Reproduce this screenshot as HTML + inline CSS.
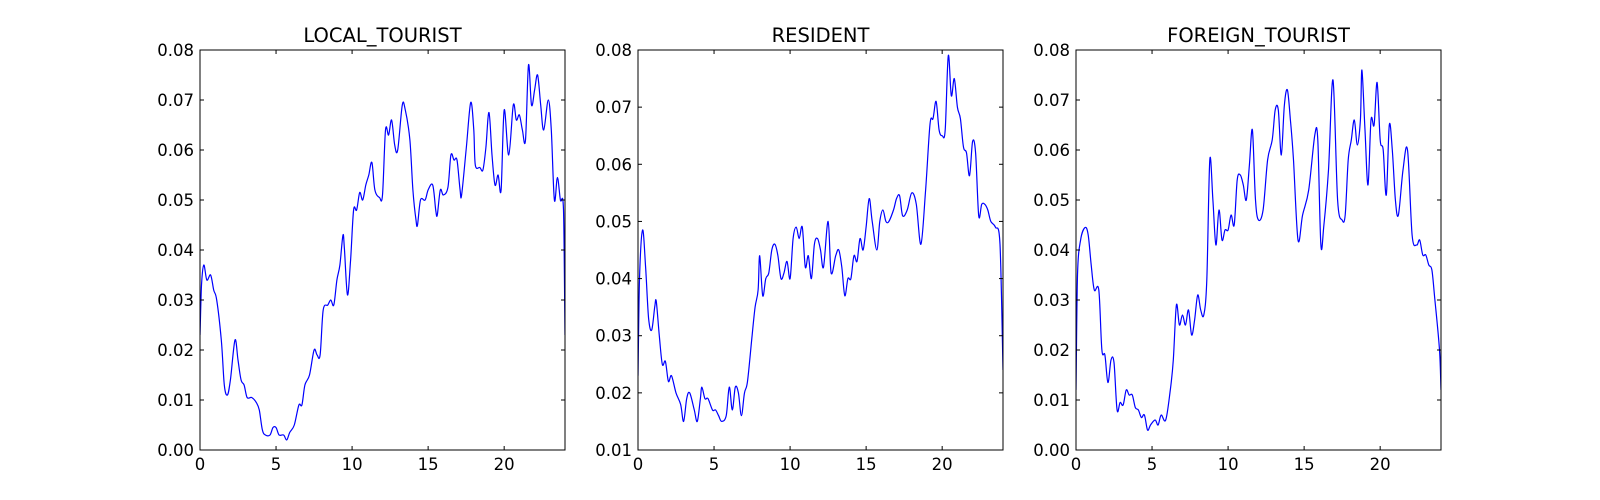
<!DOCTYPE html>
<html><head><meta charset="utf-8"><style>
html,body{margin:0;padding:0;background:#fff;}
svg{display:block;font-family:"DejaVu Sans","Liberation Sans",sans-serif;}
</style></head><body>
<svg id="chart" width="1600" height="500" xmlns="http://www.w3.org/2000/svg"></svg>
<script>
const titles = ["LOCAL_TOURIST","RESIDENT","FOREIGN_TOURIST"];
const yMins = [0,0.01,0];
const yMax = 0.08;
const xTicks = [0,5,10,15,20];
const t1 = [0,0.1,0.25,0.45,0.7,0.9,1.1,1.4,1.6,1.8,2.0,2.3,2.5,2.7,2.9,3.1,3.4,3.7,3.9,4.1,4.3,4.6,4.8,5.0,5.2,5.5,5.7,5.9,6.2,6.5,6.7,6.9,7.2,7.5,7.7,7.9,8.1,8.4,8.6,8.8,9.0,9.2,9.4,9.5,9.7,9.9,10.1,10.3,10.5,10.7,10.9,11.1,11.3,11.5,11.8,12.0,12.2,12.4,12.6,12.8,13.0,13.3,13.5,13.8,14.0,14.2,14.3,14.5,14.8,15.0,15.3,15.5,15.6,15.8,16.0,16.3,16.5,16.7,16.9,17.1,17.2,17.5,17.8,18.0,18.1,18.4,18.6,18.8,19.0,19.2,19.4,19.6,19.8,20.0,20.3,20.6,20.8,21.0,21.2,21.4,21.6,21.8,22.0,22.2,22.4,22.6,22.9,23.1,23.3,23.5,23.7,23.9,24];
const v1 = [0.023,0.033,0.037,0.034,0.035,0.032,0.030,0.022,0.013,0.011,0.014,0.022,0.018,0.014,0.013,0.0105,0.0105,0.0095,0.008,0.004,0.003,0.003,0.0045,0.0045,0.003,0.003,0.002,0.0035,0.005,0.009,0.009,0.013,0.015,0.020,0.019,0.019,0.028,0.029,0.030,0.029,0.034,0.037,0.043,0.040,0.031,0.038,0.048,0.048,0.0515,0.050,0.053,0.055,0.0575,0.052,0.0505,0.051,0.064,0.063,0.066,0.061,0.060,0.069,0.068,0.062,0.052,0.046,0.045,0.050,0.050,0.052,0.053,0.048,0.047,0.052,0.051,0.0525,0.059,0.058,0.058,0.052,0.051,0.060,0.0695,0.064,0.057,0.0565,0.056,0.0605,0.0675,0.059,0.053,0.055,0.052,0.068,0.059,0.069,0.066,0.067,0.064,0.062,0.077,0.069,0.072,0.075,0.069,0.064,0.070,0.064,0.050,0.0545,0.050,0.048,0.023];
const t2 = [0,0.1,0.3,0.5,0.7,0.9,1.1,1.2,1.4,1.6,1.8,2.0,2.2,2.5,2.8,3.0,3.2,3.4,3.7,3.9,4.1,4.2,4.4,4.6,4.9,5.1,5.3,5.5,5.8,6.0,6.2,6.4,6.6,6.8,7.0,7.2,7.5,7.7,7.9,8.0,8.2,8.4,8.6,8.8,9.0,9.2,9.4,9.6,9.8,10.0,10.2,10.4,10.6,10.8,11.0,11.2,11.4,11.6,11.8,12.0,12.2,12.5,12.7,13.0,13.2,13.4,13.6,13.8,14.0,14.2,14.4,14.6,14.8,15.0,15.2,15.4,15.7,15.9,16.1,16.3,16.5,16.8,17.0,17.2,17.4,17.7,18.0,18.3,18.6,18.9,19.2,19.4,19.6,19.8,20.0,20.2,20.4,20.6,20.8,21.0,21.2,21.4,21.6,21.8,22.0,22.2,22.4,22.6,22.8,23.0,23.2,23.5,23.8,24];
const v2 = [0.023,0.040,0.0485,0.042,0.033,0.031,0.035,0.036,0.030,0.025,0.0255,0.022,0.023,0.020,0.018,0.015,0.019,0.020,0.017,0.015,0.019,0.021,0.019,0.019,0.017,0.017,0.016,0.015,0.016,0.021,0.017,0.021,0.020,0.016,0.020,0.022,0.030,0.035,0.038,0.044,0.037,0.040,0.041,0.045,0.046,0.044,0.040,0.041,0.043,0.040,0.047,0.049,0.047,0.049,0.042,0.044,0.040,0.046,0.047,0.045,0.042,0.050,0.041,0.044,0.045,0.042,0.037,0.040,0.040,0.044,0.043,0.047,0.045,0.049,0.054,0.050,0.045,0.050,0.052,0.050,0.050,0.052,0.054,0.0545,0.051,0.052,0.055,0.053,0.046,0.055,0.067,0.068,0.071,0.066,0.065,0.066,0.079,0.072,0.075,0.070,0.068,0.063,0.062,0.058,0.064,0.062,0.051,0.053,0.053,0.052,0.050,0.049,0.046,0.024];
const t3 = [0,0.1,0.3,0.6,0.8,1.0,1.2,1.5,1.7,1.9,2.1,2.3,2.5,2.7,2.9,3.1,3.3,3.5,3.7,3.9,4.1,4.3,4.5,4.7,4.9,5.2,5.4,5.6,5.9,6.2,6.4,6.6,6.8,7.0,7.2,7.4,7.6,7.8,8.0,8.2,8.4,8.6,8.8,9.0,9.2,9.4,9.6,9.8,10.0,10.2,10.4,10.6,10.8,11.0,11.2,11.4,11.6,11.8,12.0,12.3,12.6,12.9,13.1,13.3,13.5,13.7,13.9,14.1,14.3,14.6,14.9,15.3,15.7,15.9,16.1,16.3,16.6,16.9,17.2,17.5,17.7,17.9,18.1,18.3,18.5,18.7,18.8,19.0,19.2,19.4,19.6,19.8,20.0,20.2,20.4,20.6,20.8,21.0,21.2,21.5,21.8,22.1,22.4,22.6,22.8,23.0,23.2,23.4,23.6,23.9,24];
const v3 = [0.012,0.035,0.042,0.0445,0.043,0.037,0.032,0.032,0.020,0.019,0.0135,0.018,0.0175,0.008,0.0095,0.009,0.012,0.011,0.011,0.0085,0.008,0.0065,0.007,0.004,0.005,0.006,0.005,0.007,0.006,0.012,0.018,0.029,0.025,0.027,0.025,0.028,0.023,0.026,0.031,0.028,0.027,0.034,0.058,0.050,0.041,0.048,0.042,0.044,0.044,0.047,0.045,0.054,0.055,0.053,0.050,0.057,0.064,0.050,0.046,0.048,0.058,0.062,0.068,0.068,0.059,0.069,0.072,0.066,0.058,0.042,0.047,0.052,0.063,0.062,0.041,0.045,0.056,0.074,0.050,0.046,0.047,0.058,0.062,0.066,0.061,0.066,0.076,0.064,0.053,0.066,0.065,0.0735,0.062,0.060,0.051,0.065,0.060,0.050,0.047,0.056,0.060,0.043,0.041,0.042,0.039,0.039,0.037,0.036,0.030,0.020,0.012];
const times = [t1,t2,t3];
const vals = [v1,v2,v3];

(function(){
const NS="http://www.w3.org/2000/svg";
const svg=document.getElementById('chart');
function mk(tag,attrs,parent){const e=document.createElementNS(NS,tag);for(const k in attrs)e.setAttribute(k,attrs[k]);(parent||svg).appendChild(e);return e;}
const lefts=[200,638,1076], W=365, topY=50, botY=450;
for(let p=0;p<3;p++){
  const L=lefts[p], R=L+W, y0=yMins[p];
  const xs=t=>L+t/24*W;
  const ys=v=>botY-(v-y0)/(yMax-y0)*(botY-topY);
  const g=mk('g',{});
  
  
  const n=Math.min(times[p].length,vals[p].length);
  const pts=[];
  for(let i=0;i<n;i++)pts.push([xs(times[p][i]),ys(vals[p][i])]);
  let d='M'+pts[0][0].toFixed(1)+','+pts[0][1].toFixed(1);
  for(let i=0;i<pts.length-1;i++){
    const a=pts[Math.max(0,i-1)],b=pts[i],c=pts[i+1],e=pts[Math.min(pts.length-1,i+2)];
    const c1=[b[0]+(c[0]-a[0])/6,b[1]+(c[1]-a[1])/6], c2=[c[0]-(e[0]-b[0])/6,c[1]-(e[1]-b[1])/6];
    d+=' C'+c1[0].toFixed(1)+','+c1[1].toFixed(1)+' '+c2[0].toFixed(1)+','+c2[1].toFixed(1)+' '+c[0].toFixed(1)+','+c[1].toFixed(1);
  }
  const cp=mk('clipPath',{id:'cp'+p},g); mk('rect',{x:L,y:topY,width:W,height:botY-topY},cp);
  const line=mk('path',{d:d,fill:'none',stroke:'#0000ff','stroke-width':1.2,'clip-path':'url(#cp'+p+')'},g);
  
  
  const fr=mk('rect',{x:L,y:topY,width:W,height:botY-topY,fill:'none',stroke:'#000','stroke-width':1},g);
  
  
  xTicks.forEach(t=>{
    const x=xs(t);
    mk('line',{x1:x,y1:botY,x2:x,y2:botY-4,stroke:'#000'},g);
    mk('line',{x1:x,y1:topY,x2:x,y2:topY+4,stroke:'#000'},g);
    const tx=mk('text',{x:x,y:botY+20,'text-anchor':'middle','font-size':16.5},g);tx.textContent=t;
    
    
  });
  for(let k=Math.round(y0*100);k<=8;k++){
    const v=k/100, y=ys(v);
    mk('line',{x1:L,y1:y,x2:L+4,y2:y,stroke:'#000'},g);
    mk('line',{x1:R,y1:y,x2:R-4,y2:y,stroke:'#000'},g);
    const ty=mk('text',{x:L-6,y:y+6,'text-anchor':'end','font-size':16.5},g);ty.textContent=v.toFixed(2);
    
    
  }
  const ti=mk('text',{x:L+W/2,y:topY-8,'text-anchor':'middle','font-size':19.5},g);ti.textContent=titles[p];
  
  
}
})();
</script>
</body></html>
